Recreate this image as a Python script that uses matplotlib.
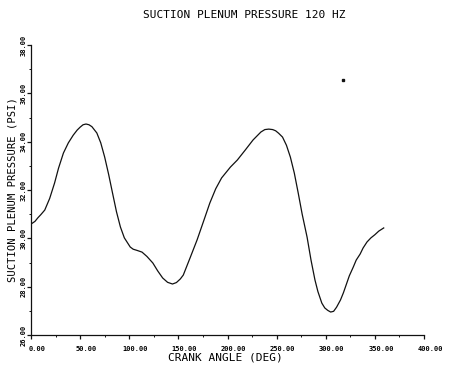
import matplotlib
matplotlib.use("Agg")
import matplotlib.pyplot as plt
import matplotlib.transforms as mtrans
import numpy as np

# values
crank_deg = [0, 4, 7, 10, 14, 19, 24, 28, 33, 38, 43, 47, 50, 53, 56, 59, 62,
             67, 71, 75, 79, 83, 87, 91, 95, 101, 104, 108, 113, 118, 124, 129,
             134, 139, 144, 148, 152, 155, 162, 169, 176, 182, 188, 194, 203,
             210, 218, 226, 234, 238, 242, 246, 249, 252, 256, 260, 264, 268,
             272, 276, 281, 285, 289, 292, 296, 299, 302, 305, 308, 311, 315,
             318, 321, 324, 328, 331, 335, 338, 342, 346, 350, 354, 359]
pressure_psi = [30.59, 30.70, 30.85, 30.98, 31.17, 31.65, 32.29, 32.90, 33.53,
                33.95, 34.27, 34.48, 34.60, 34.70, 34.73, 34.70, 34.62, 34.36,
                33.95, 33.36, 32.65, 31.87, 31.10, 30.47, 30.02, 29.64, 29.55,
                29.50, 29.43, 29.25, 28.98, 28.65, 28.36, 28.18, 28.11, 28.17,
                28.32, 28.48, 29.20, 29.93, 30.75, 31.46, 32.05, 32.50, 32.95,
                33.24, 33.65, 34.07, 34.40, 34.50, 34.52, 34.50, 34.45, 34.35,
                34.19, 33.85, 33.36, 32.70, 31.87, 31.00, 30.05, 29.10, 28.28,
                27.80, 27.32, 27.12, 27.02, 26.95, 26.98, 27.15, 27.45, 27.75,
                28.10, 28.45, 28.81, 29.10, 29.35, 29.60, 29.85, 30.02, 30.15,
                30.30, 30.43]
speck = (317.6, 36.55)

x_ticks = [0, 50, 100, 150, 200, 250, 300, 350, 400]
y_ticks = [26, 28, 30, 32, 34, 36, 38]

mono = "DejaVu Sans Mono"

fig = plt.figure(figsize=(4.56, 3.68), dpi=100)
ax = fig.add_axes([31 / 456, 1 - 335 / 368, 393 / 456, 290 / 368])

ax.plot(crank_deg, pressure_psi, color="#111111", lw=0.9)
ax.plot([speck[0]], [speck[1]], "s", color="#111111", ms=1.6)

ax.set_xlim(0, 400)
ax.set_ylim(26, 38)
for s in ("top", "right"):
    ax.spines[s].set_visible(False)
for s in ("left", "bottom"):
    ax.spines[s].set_linewidth(0.9)
    ax.spines[s].set_color("#111111")

ax.set_xticks(x_ticks)
ax.set_xticks(np.arange(0, 401, 25), minor=True)
ax.set_yticks(y_ticks)
ax.set_yticks(np.arange(26, 38.1, 1), minor=True)
ax.set_xticklabels(["%.2f" % v for v in x_ticks], fontfamily=mono,
                   fontsize=5, fontweight="bold")
ax.set_yticklabels(["%.2f" % v for v in y_ticks], fontfamily=mono,
                   fontsize=5, fontweight="bold", rotation=90, va="center")
ax.tick_params(which="major", length=3, width=0.9, color="#111111")
ax.tick_params(axis="x", which="major", pad=5)
ax.tick_params(axis="y", which="major", pad=0.5)
ax.tick_params(which="minor", length=1.5, width=0.7, color="#111111")

# shift x tick labels a bit right like the plotter output
off = mtrans.ScaledTranslation(6 / 100, 0, fig.dpi_scale_trans)
for lab in ax.get_xticklabels():
    lab.set_transform(lab.get_transform() + off)

ax.set_xlabel("CRANK ANGLE (DEG)", fontfamily=mono, fontsize=8, va="center")
ax.xaxis.set_label_coords(0.495, -0.076)
ax.set_ylabel("SUCTION PLENUM PRESSURE (PSI)", fontfamily=mono, fontsize=7.6,
              va="center")
ax.yaxis.set_label_coords(-0.046, 0.5)

fig.text(244 / 456, 1 - 15 / 368, "SUCTION PLENUM PRESSURE 120 HZ",
         fontfamily=mono, fontsize=8, ha="center", va="center")

fig.savefig("out.png", dpi=100)
